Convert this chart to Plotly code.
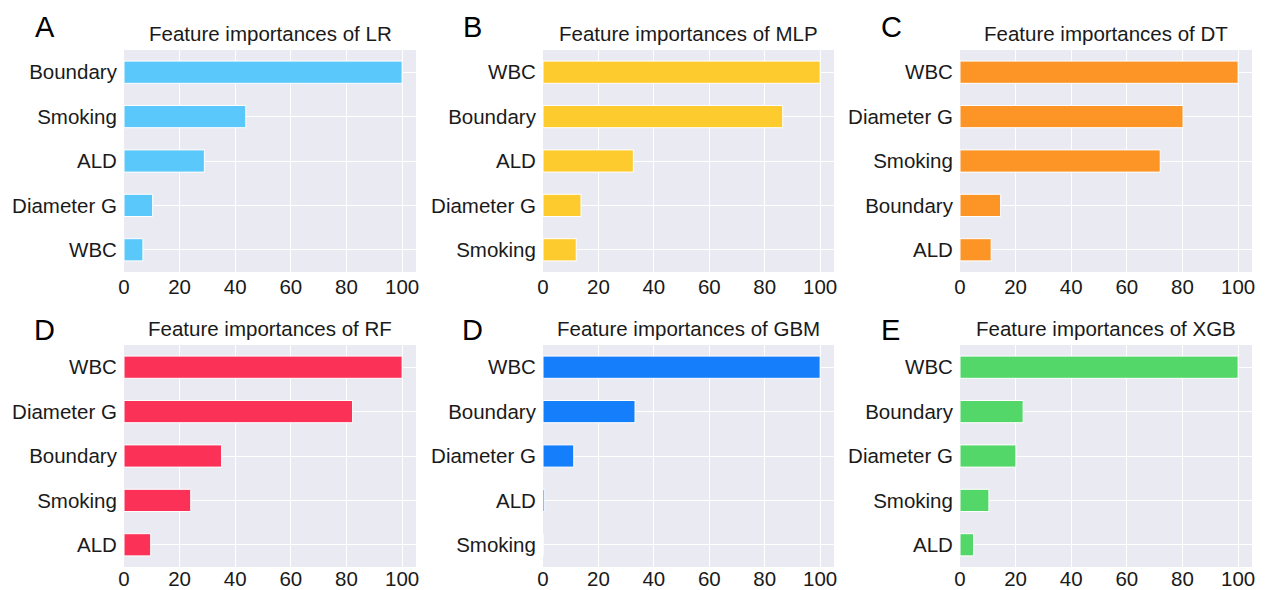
import plotly.graph_objects as go

W, H = 1269, 590

# Data (categories listed bottom -> top as drawn)
lr_features = ["WBC", "Diameter G", "ALD", "Smoking", "Boundary"]
lr_values = [6.8, 10.3, 28.9, 43.8, 100]

mlp_features = ["Smoking", "Diameter G", "ALD", "Boundary", "WBC"]
mlp_values = [12.0, 13.7, 32.6, 86.5, 100]

dt_features = ["ALD", "Boundary", "Smoking", "Diameter G", "WBC"]
dt_values = [11.2, 14.6, 72.0, 80.2, 100]

rf_features = ["ALD", "Smoking", "Boundary", "Diameter G", "WBC"]
rf_values = [9.6, 24.0, 35.1, 82.2, 100]

gbm_features = ["Smoking", "ALD", "Diameter G", "Boundary", "WBC"]
gbm_values = [0.1, 0.6, 11.1, 33.2, 100]

xgb_features = ["ALD", "Smoking", "Diameter G", "Boundary", "WBC"]
xgb_values = [4.9, 10.4, 20.1, 22.7, 100]

titles = ["Feature importances of LR", "Feature importances of MLP", "Feature importances of DT",
          "Feature importances of RF", "Feature importances of GBM", "Feature importances of XGB"]
letters = ["A", "B", "C", "D", "D", "E"]
colors = ["#5AC8FA", "#FECB2E", "#FD9426", "#FC3158", "#147EFB", "#53D769"]
x_ticks = [0, 20, 40, 60, 80, 100]

panels = [
    (lr_features, lr_values), (mlp_features, mlp_values), (dt_features, dt_values),
    (rf_features, rf_values), (gbm_features, gbm_values), (xgb_features, xgb_values),
]

# pixel geometry
col_px = [(124, 416), (543, 834), (960, 1252)]
row_px = [(50, 272), (345, 567)]
letter_px = [(45, 27), (472, 27), (891, 27), (44, 330), (472, 330), (890, 330)]

FONT = "Liberation Sans, Arial, Helvetica, sans-serif"

fig = go.Figure()
layout = dict(
    width=W, height=H, margin=dict(l=0, r=0, t=0, b=0, autoexpand=False),
    paper_bgcolor="white", plot_bgcolor="#EAEAF2",
    showlegend=False, font=dict(family=FONT, size=20, color="#1a1a1a"),
)
annotations = []

for i, (feats, vals) in enumerate(panels):
    r, c = divmod(i, 3)
    x0, x1 = col_px[c]
    y0, y1 = row_px[r]
    idx = "" if i == 0 else str(i + 1)
    fig.add_trace(go.Bar(
        x=vals, y=feats, orientation="h", width=0.5,
        marker=dict(color=colors[i], line=dict(color="white", width=1)),
        xaxis="x" + idx, yaxis="y" + idx,
    ))
    layout["xaxis" + idx] = dict(
        domain=[x0 / W, x1 / W], anchor="y" + idx, range=[0, 105],
        tickvals=x_ticks, ticktext=[str(t) for t in x_ticks],
        showgrid=True, gridcolor="white", gridwidth=1.2, zeroline=False,
        showline=False, ticks="", automargin=False,
        ticklabelstandoff=(-3 if r == 1 else 0),
        tickfont=dict(size=20.5, family=FONT, color="#1a1a1a"),
    )
    layout["yaxis" + idx] = dict(
        domain=[1 - y1 / H, 1 - y0 / H], anchor="x" + idx,
        type="category", categoryorder="array", categoryarray=feats,
        range=[-0.5, 4.5], showgrid=True, gridcolor="white", gridwidth=1.2,
        zeroline=False, showline=False, ticks="outside", ticklen=2,
        tickcolor="rgba(0,0,0,0)", automargin=False,
        tickfont=dict(size=20.5, family=FONT, color="#1a1a1a"),
    )
    annotations.append(dict(
        text=titles[i], x=(x0 + x1) / 2 / W, y=1 - (y0 - 3) / H,
        xref="paper", yref="paper", xanchor="center", yanchor="bottom",
        showarrow=False, font=dict(size=20.5, family=FONT, color="#1a1a1a"),
    ))
    lx, ly = letter_px[i]
    annotations.append(dict(
        text=letters[i], x=lx / W, y=1 - ly / H, xref="paper", yref="paper",
        xanchor="center", yanchor="middle", showarrow=False,
        font=dict(size=29, family=FONT, color="#000000"),
    ))

layout["annotations"] = annotations
fig.update_layout(**layout)
fig.write_html("out.html", config={"displayModeBar": False},
               post_script="document.body.style.margin='0';document.body.style.overflow='hidden';")
